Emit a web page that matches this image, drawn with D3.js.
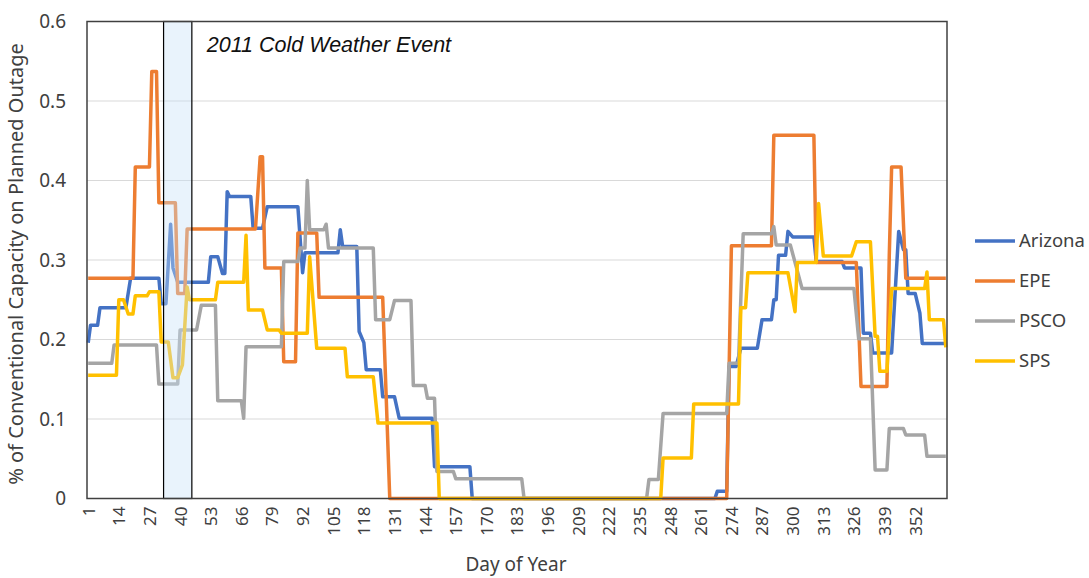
<!DOCTYPE html>
<html>
<head>
<meta charset="utf-8">
<script src="https://cdn.jsdelivr.net/npm/d3@7"></script>
<style>
  body { margin: 0; background: #fff; }
  svg { display: block; font-family: "Noto Sans", "Open Sans", sans-serif; }
</style>
</head>
<body>
<script>
// series as [day, value] knots (step changes take ~1 day)
const seriesNames = ["Arizona", "EPE", "PSCO", "SPS"];
const seriesColors = ["#4472C4", "#ED7D31", "#A5A5A5", "#FFC000"];

const arizona = [[1,0.196],[2,0.218],[5,0.218],[6,0.24],[17,0.24],[19,0.277],[31,0.277],[32,0.245],[34,0.245],
  [36,0.345],[37,0.29],[39,0.272],[52,0.272],[53,0.304],[56,0.304],[58,0.283],[59,0.283],[60,0.386],[61,0.38],
  [70,0.38],[71,0.34],[75,0.34],[77,0.367],[90,0.367],[92,0.284],[93,0.309],[107,0.309],[108,0.338],[109,0.317],
  [115,0.317],[116,0.21],[118,0.196],[119,0.162],[125,0.162],[126,0.128],[131,0.128],[133,0.101],[147,0.101],
  [148,0.04],[163,0.04],[164,0],[267,0],[268,0.009],[272,0.009],[273,0.166],[276,0.166],[278,0.189],[285,0.189],
  [287,0.225],[291,0.225],[292,0.25],[293,0.25],[294,0.306],[297,0.306],[298,0.336],[300,0.329],[309,0.329],
  [310,0.298],[321,0.298],[322,0.29],[329,0.29],[330,0.208],[333,0.208],[334,0.183],[342,0.183],[345,0.336],
  [347,0.313],[348,0.313],[349,0.258],[352,0.258],[354,0.233],[355,0.195],[365,0.195]];

const epe = [[1,0.277],[20,0.277],[21,0.417],[27,0.417],[28,0.537],[30,0.537],[31,0.372],[38,0.372],[39,0.258],
  [42,0.258],[43,0.339],[72,0.339],[74,0.43],[75,0.43],[76,0.29],[83,0.29],[84,0.172],[89,0.172],[90,0.334],
  [98,0.334],[99,0.253],[126,0.253],[129,0],[272,0],[274,0.318],[291,0.318],[292,0.457],[309,0.457],[310,0.297],
  [327,0.297],[329,0.141],[340,0.141],[341,0.306],[342,0.417],[346,0.417],[348,0.277],[365,0.277]];

const psco = [[1,0.17],[11,0.17],[12,0.193],[30,0.193],[31,0.144],[39,0.144],[40,0.212],[47,0.212],[49,0.243],
  [55,0.243],[56,0.123],[66,0.123],[67,0.101],[68,0.191],[83,0.191],[84,0.298],[90,0.298],[91,0.315],[93,0.315],
  [94,0.40],[95,0.338],[101,0.338],[102,0.345],[103,0.315],[122,0.315],[123,0.225],[129,0.225],[131,0.249],
  [138,0.249],[139,0.142],[144,0.142],[145,0.126],[148,0.126],[149,0.034],[156,0.034],[157,0.025],[185,0.025],
  [186,0],[238,0],[239,0.024],[243,0.024],[245,0.107],[272,0.107],[273,0.17],[277,0.17],[279,0.333],[291,0.333],
  [292,0.342],[293,0.319],[299,0.319],[304,0.264],[326,0.264],[328,0.201],[333,0.201],[335,0.036],[340,0.036],
  [341,0.088],[347,0.088],[348,0.08],[356,0.08],[357,0.053],[365,0.053]];

const sps = [[1,0.155],[13,0.155],[14,0.25],[16,0.25],[18,0.232],[20,0.232],[21,0.255],[26,0.255],[27,0.26],
  [31,0.26],[32,0.197],[35,0.197],[37,0.152],[39,0.152],[41,0.168],[43,0.266],[44,0.25],[55,0.25],[56,0.272],
  [67,0.272],[68,0.331],[69,0.237],[75,0.237],[77,0.212],[82,0.212],[83,0.208],[94,0.208],[95,0.304],[98,0.189],
  [110,0.189],[111,0.153],[122,0.153],[124,0.095],[149,0.095],[150,0],[244,0],[245,0.051],[257,0.051],
  [258,0.119],[277,0.119],[278,0.24],[280,0.24],[281,0.284],[298,0.284],[301,0.235],[302,0.297],[310,0.297],
  [311,0.371],[313,0.305],[325,0.305],[327,0.323],[333,0.323],[335,0.204],[336,0.204],[337,0.16],[340,0.16],
  [342,0.264],[356,0.264],[357,0.285],[358,0.225],[364,0.225],[365,0.19]];

const xTicks = d3.range(1, 353, 13);          // 1, 14, 27 ... 352
const yTicks = [0, 0.1, 0.2, 0.3, 0.4, 0.5, 0.6];
const eventDays = [33, 45];                    // shaded cold weather window
const eventLabel = "2011 Cold Weather Event";

const allSeries = [arizona, epe, psco, sps];

const W = 1089, H = 578;
const margin = { top: 21.5, left: 87, right: 142, bottom: 79.5 };
const pw = W - margin.left - margin.right;
const ph = H - margin.top - margin.bottom;

const svg = d3.select("body").append("svg").attr("width", W).attr("height", H);
const g = svg.append("g").attr("transform", "translate(" + margin.left + "," + margin.top + ")");

// category axis: each day gets an equal slot, points drawn at slot centres
const x = d3.scaleLinear().domain([0.5, 365.5]).range([0, pw]);
const y = d3.scaleLinear().domain([0, 0.6]).range([ph, 0]);

// horizontal gridlines
g.append("g")
  .selectAll("line")
  .data(yTicks.slice(1, -1))
  .enter().append("line")
  .attr("x1", 0).attr("x2", pw)
  .attr("y1", d => y(d)).attr("y2", d => y(d))
  .attr("stroke", "#D9D9D9").attr("stroke-width", 1.2);

// y axis labels
const yAxis = d3.axisLeft(y).tickValues(yTicks).tickSize(0).tickPadding(21)
  .tickFormat(d => d === 0 ? "0" : d3.format(".1f")(d));
g.append("g").call(yAxis)
  .call(s => s.select(".domain").remove())
  .selectAll("text")
  .attr("font-size", 19).attr("fill", "#404040")
  .attr("font-family", "Noto Sans");

// x axis labels, rotated
const xAxis = d3.axisBottom(x).tickValues(xTicks).tickSize(0).tickPadding(0);
g.append("g").attr("transform", "translate(0," + ph + ")").call(xAxis)
  .call(s => s.select(".domain").remove())
  .selectAll("text")
  .attr("font-size", 17).attr("fill", "#404040")
  .attr("font-family", "Noto Sans")
  .attr("transform", "rotate(-90)")
  .attr("text-anchor", "end")
  .attr("x", -8).attr("y", 0).attr("dy", "0.35em");

// lines
const line = d3.line().x(d => x(d[0])).y(d => y(d[1]));
g.append("g")
  .selectAll("path")
  .data(allSeries)
  .enter().append("path")
  .attr("d", line)
  .attr("fill", "none")
  .attr("stroke", (d, i) => seriesColors[i])
  .attr("stroke-width", 3.5)
  .attr("stroke-linejoin", "round");

// shaded event box sits over the lines
g.append("rect")
  .attr("x", x(eventDays[0])).attr("y", 0)
  .attr("width", x(eventDays[1]) - x(eventDays[0]))
  .attr("height", ph)
  .attr("fill", "#C8E1F8").attr("fill-opacity", 0.4)
  .attr("stroke", "#000").attr("stroke-width", 1.2);

g.append("text")
  .attr("x", x(eventDays[1]) + 15).attr("y", 30)
  .attr("font-family", "Liberation Sans").attr("font-style", "italic")
  .attr("font-size", 21.5).attr("fill", "#111")
  .text(eventLabel);

// plot border
g.append("rect")
  .attr("x", 0).attr("y", 0).attr("width", pw).attr("height", ph)
  .attr("fill", "none").attr("stroke", "#404040").attr("stroke-width", 1.5);

// axis titles
svg.append("text")
  .attr("transform", "translate(23," + (margin.top + ph / 2 + 4) + ") rotate(-90)")
  .attr("text-anchor", "middle")
  .attr("font-size", 20).attr("fill", "#404040")
  .text("% of Conventional Capacity on Planned Outage");

svg.append("text")
  .attr("x", margin.left + pw / 2 - 1).attr("y", 571)
  .attr("text-anchor", "middle")
  .attr("font-size", 19).attr("fill", "#404040")
  .text("Day of Year");

// legend
const legend = svg.append("g").attr("transform", "translate(975,241)");
seriesNames.forEach(function(name, i) {
  const row = legend.append("g").attr("transform", "translate(0," + (i * 40) + ")");
  row.append("line").attr("x1", 0).attr("x2", 40).attr("y1", 0).attr("y2", 0)
    .attr("stroke", seriesColors[i]).attr("stroke-width", 3.5);
  row.append("text").attr("x", 44).attr("y", 0).attr("dy", "0.35em")
    .attr("font-size", 18.5).attr("fill", "#404040").text(name);
});
</script>
</body>
</html>
